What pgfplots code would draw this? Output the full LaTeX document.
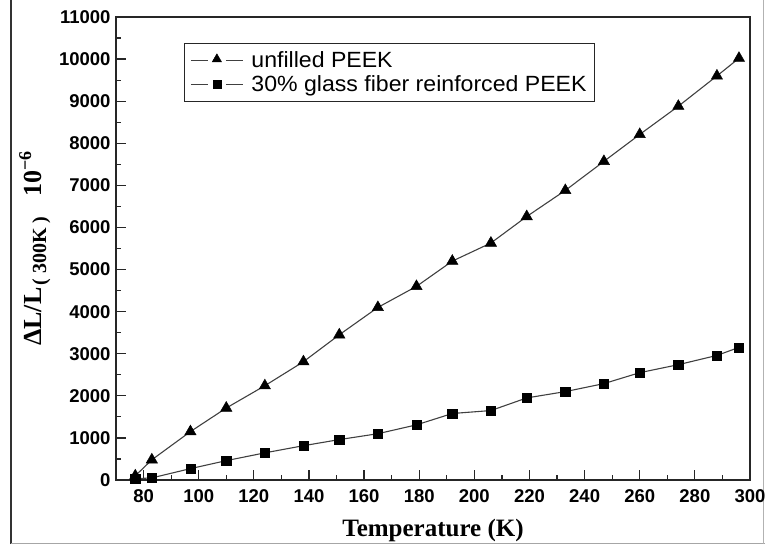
\documentclass[border=0pt]{standalone}
\usepackage{pgfplots}
\pgfplotsset{compat=1.18}
\usepackage{fontspec}
\setmainfont{Liberation Sans}
\newfontfamily\legfont[FakeStretch=1.05]{Liberation Sans}
\newfontfamily\labfont{Liberation Serif}
\begin{document}
\begin{tikzpicture}
\useasboundingbox (0,0) rectangle (765pt,544pt);
\draw[black!80, line width=1.5pt] (11pt,0pt) -- (11pt,544pt);
\draw[black!35, line width=1pt] (11pt,1pt) -- (765pt,1pt);
\draw[black!30, line width=1pt] (763pt,0pt) -- (763pt,544pt);
\begin{axis}[
  at={(116pt,64pt)}, anchor=south west,
  scale only axis, width=634pt, height=463pt,
  xmin=70, xmax=300, ymin=0, ymax=11000,
  xtick={80,100,...,300}, ytick={0,1000,...,11000},
  minor x tick num=1, minor y tick num=1,
  tick align=inside, xtick pos=bottom, ytick pos=left,
  major tick length=10pt, minor tick length=5pt,
  tick style={black!85, line width=1.2pt},
  axis line style={black!85, line width=1.3pt},
  /pgf/number format/assume math mode=true,
  /pgf/number format/1000 sep={},
  scaled y ticks=false,
  ticklabel style={font=\bfseries\fontsize{18.5}{18.5}\selectfont},
  xticklabel style={yshift=-6pt},
  yticklabel style={xshift=-2pt},
  xlabel={Temperature (K)},
  xlabel style={font=\labfont\bfseries\fontsize{25}{25}\selectfont, at={(axis description cs:0.5,-0.11)}, anchor=center},
  ylabel={ΔL/L\hspace{2pt}\raisebox{-5pt}{\fontsize{20}{20}\selectfont(\hspace{5pt}300K\hspace{5pt})}\hspace{20pt}10\raisebox{10pt}{\fontsize{18}{18}\selectfont −6}},
  ylabel style={font=\labfont\bfseries\fontsize{26}{26}\selectfont, at={(axis description cs:-0.128,0.5)}, anchor=center},
  legend style={at={(axis description cs:0.107,0.944)}, anchor=north west, draw=black!85, line width=1pt,
    font=\legfont\fontsize{22}{22}\selectfont, inner xsep=6pt, inner ysep=6pt, row sep=3pt,
    /tikz/every odd column/.append style={column sep=6pt}},
  legend cell align=left,
]
\addplot[black!75, line width=1.1pt, mark=triangle*, mark size=6.5pt,
  mark options={fill=black, draw=black, line width=0.5pt},
  legend image code/.code={
    \draw (0pt,0pt) -- (17pt,0pt);
    \draw (35pt,0pt) -- (52pt,0pt);
    \draw[mark size=5.3pt] plot coordinates {(26pt,1pt)};
  }] coordinates {
  (77,100) (83,480) (97,1150) (110,1710) (124,2240) (138,2810) (151,3450)
  (165,4100) (179,4600) (192,5200) (206,5630) (219,6260) (233,6880)
  (247,7570) (260,8210) (274,8880) (288,9600) (296,10020)
};
\addlegendentry{unfilled PEEK}
\addplot[black!75, line width=1.1pt, mark=square*, mark size=4.6pt,
  mark options={fill=black, draw=black, line width=0.5pt},
  legend image code/.code={
    \draw (0pt,0pt) -- (17pt,0pt);
    \draw (35pt,0pt) -- (52pt,0pt);
    \draw[mark size=4pt] plot coordinates {(26pt,0pt)};
  }] coordinates {
  (77,30) (83,50) (97,270) (110,460) (124,645) (138,815) (151,960)
  (165,1100) (179,1310) (192,1580) (206,1650) (219,1950) (233,2100)
  (247,2290) (260,2550) (274,2740) (288,2960) (296,3150)
};
\addlegendentry{30\% glass fiber reinforced PEEK}
\end{axis}
\end{tikzpicture}
\end{document}
